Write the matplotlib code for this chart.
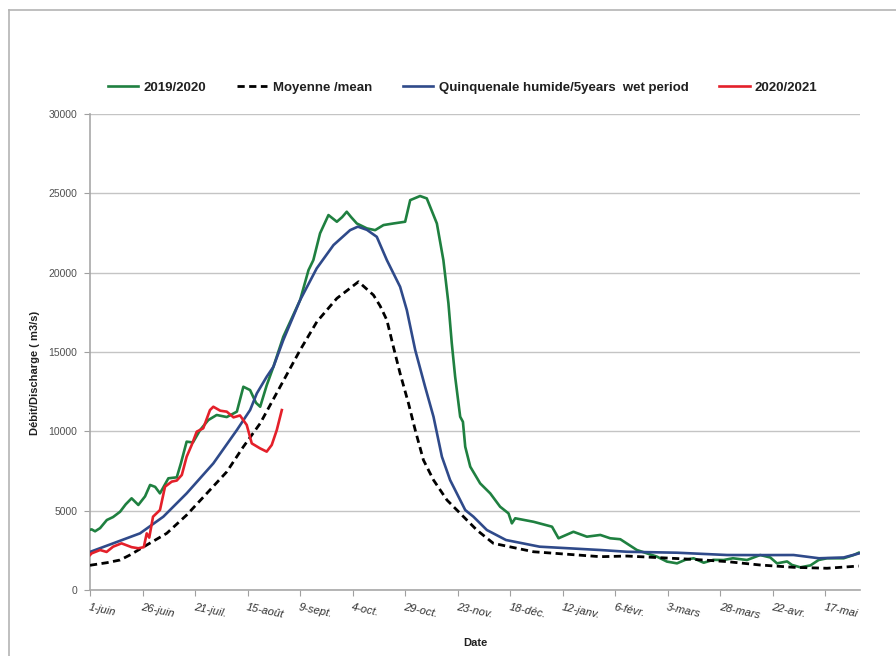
import matplotlib
matplotlib.use("Agg")
import matplotlib.pyplot as plt
from matplotlib.lines import Line2D

# ---------------- data (day index from 1 June, discharge m3/s) ----------------
green_days = [0, 0.8, 2.4, 4.8, 8, 11, 14.3, 17, 19.8, 23, 26.2, 28.6, 31, 33.3, 37.3, 41.3,
              43.3, 46, 49, 52.4, 56.3, 60.3, 65.1, 69.9, 73, 76.2, 79, 81, 84.1, 87.3, 92,
              100, 104, 106.3, 109.5, 113.5, 117.5, 120, 122.2, 124.3, 127, 131.8, 135.7,
              139.7, 144.4, 150, 152.4, 157.1, 160.3, 165.1, 168.2, 170.6, 172.2, 173.8,
              176.2, 177.5, 178.6, 181, 185.7, 190.5, 195.2, 199.2, 200.8, 202.4, 211.1,
              219.9, 223, 230.1, 236.5, 242.9, 247.6, 252.4, 260.3, 269.9, 274.6, 279.4,
              283.3, 287.3, 292.1, 296.7, 301.6, 306, 312.7, 319, 323.8, 327, 331.8, 334.1,
              338.1, 342.9, 346.8, 350.8, 358.7, 363.5, 365.9]
green_vals = [3800, 3820, 3700, 3900, 4410, 4600, 4930, 5400, 5780, 5360, 5900, 6620, 6500,
              6090, 7040, 7100, 8000, 9350, 9300, 10080, 10710, 11030, 10900, 11240, 12810,
              12600, 11800, 11550, 12900, 14070, 15960, 18270, 20160, 20790, 22480, 23630,
              23210, 23500, 23840, 23500, 23100, 22790, 22680, 23000, 23100, 23210, 24570,
              24830, 24680, 23100, 20790, 18070, 15550, 13440, 10920, 10600, 9030, 7770,
              6720, 6090, 5250, 4830, 4200, 4520, 4300, 3990, 3260, 3670, 3360, 3470, 3260,
              3200, 2520, 2100, 1790, 1680, 1900, 2000, 1720, 1900, 1890, 2000, 1890, 2205,
              2050, 1680, 1800, 1580, 1430, 1550, 1890, 2000, 2000, 2205, 2350]

mean_days = [0, 0.8, 8, 14.3, 19, 27, 36.5, 46, 55.6, 65.1, 73, 81, 90.5, 100, 108, 117.5,
             127.8, 134.9, 138.1, 141.3, 144.4, 147.6, 151.6, 154.8, 158.7, 163.5, 169.9,
             176.2, 184.1, 192, 211.1, 242.9, 255.6, 287.3, 303.2, 319, 334.9, 350.8, 365.9]
mean_vals = [1550, 1575, 1720, 1890, 2205, 2835, 3570, 4725, 6090, 7450, 9030, 10500, 12810,
             15120, 16910, 18380, 19430, 18590, 17900, 17010, 15330, 13650, 11760, 10080,
             8190, 6930, 5670, 4830, 3780, 2940, 2410, 2100, 2140, 1930, 1790, 1575, 1430,
             1370, 1510]

wet_days = [0, 11, 23.8, 34.9, 46, 58.7, 69.9, 76.2, 79.4, 84.1, 87.3, 92, 100, 107.9, 115.9,
            123.8, 127.5, 131.8, 136.5, 141.3, 147.6, 150.8, 154.8, 159.5, 163.5, 167.5,
            171.4, 175.4, 178.6, 182.5, 188.9, 198, 214, 242.9, 255.6, 279.4, 303.2, 319,
            334.9, 347, 358.7, 365.9]
wet_vals = [2400, 2940, 3570, 4620, 6090, 7980, 10080, 11340, 12390, 13440, 14070, 15750,
            18270, 20270, 21740, 22680, 22900, 22700, 22260, 20790, 19110, 17640, 15120,
            12810, 10920, 8400, 6930, 5880, 5040, 4620, 3780, 3150, 2730, 2520, 2410, 2350,
            2205, 2200, 2205, 2000, 2050, 2300]

red_days = [0, 0.8, 4.8, 7.9, 11, 15, 19.8, 23, 25.6, 27, 28.2, 30, 33.3, 35.7, 38.9, 41.3,
            43.7, 46, 48.4, 50.8, 53.9, 57.1, 58.7, 62, 65.1, 68.3, 71.4, 74.6, 77, 80.9,
            84.1, 86.5, 88.9, 91.3]
red_vals = [2200, 2310, 2520, 2400, 2730, 2940, 2700, 2630, 2700, 3570, 3300, 4620, 5040,
            6510, 6830, 6900, 7250, 8400, 9140, 9980, 10190, 11340, 11550, 11300, 11240,
            10880, 11000, 10400, 9240, 8930, 8720, 9140, 10080, 11340]

tick_days = [0, 25, 50, 75, 100, 125, 150, 175, 200, 225, 250, 275, 300, 325, 350]
tick_labels = ["1-juin", "26-juin", "21-juil.", "15-août", "9-sept.", "4-oct.", "29-oct.",
               "23-nov.", "18-déc.", "12-janv.", "6-févr.", "3-mars", "28-mars", "22-avr.",
               "17-mai"]
y_ticks = [0, 5000, 10000, 15000, 20000, 25000, 30000]

series_labels = ["2019/2020", "Moyenne /mean", "Quinquenale humide/5years  wet period", "2020/2021"]

# ---------------- figure ----------------
plt.rcParams['font.family'] = ['Liberation Sans', 'DejaVu Sans']
fig = plt.figure(figsize=(8.96, 6.56), dpi=100)
ax = fig.add_axes([90/896, 1 - 590/656, (860-90)/896, (590-114)/656])

c_green = '#1f8040'
c_blue = '#2f4a8a'
c_red = '#e4202a'

ax.plot(green_days, green_vals, color=c_green, lw=1.9, label=series_labels[0], zorder=3)
ax.plot(mean_days, mean_vals, color='black', lw=2.0, dashes=(2.6, 1.6),
        label=series_labels[1], zorder=3)
ax.plot(wet_days, wet_vals, color=c_blue, lw=1.9, label=series_labels[2], zorder=3)
ax.plot(red_days, red_vals, color=c_red, lw=1.9, label=series_labels[3], zorder=4)

ax.set_xlim(0, 366.5)
ax.set_ylim(0, 30000)
ax.set_yticks(y_ticks)
ax.set_yticklabels([str(v) for v in y_ticks], fontsize=7.5, color='#505050')
ax.yaxis.grid(True, color='#c4c4c4', lw=1.0)
ax.set_axisbelow(True)

ax.set_xticks(tick_days)
ax.set_xticklabels(tick_labels, fontsize=8, style='italic', color='#303030',
                   rotation=-12, ha='left', va='top', rotation_mode='anchor')
ax.tick_params(axis='x', length=4, color='#a0a0a0', pad=5)
ax.tick_params(axis='y', length=4, color='#a0a0a0', pad=5)

for s in ['top', 'right']:
    ax.spines[s].set_visible(False)
for s in ['left', 'bottom']:
    ax.spines[s].set_color('#a8a8a8')
    ax.spines[s].set_linewidth(1.2)

ax.set_ylabel("Débit/Discharge ( m3/s)", fontsize=8, fontweight='bold', color='#202020')
ax.yaxis.set_label_coords(-0.065, 0.455)
ax.set_xlabel("Date", fontsize=8, fontweight='bold', color='#202020')
ax.xaxis.set_label_coords(0.5, -0.1)

leg = ax.legend(loc='center', bbox_to_anchor=(0.484, (656 - 88 - (656 - 590)) / 476),
                ncol=4, frameon=False, fontsize=9.5, handlelength=2.3,
                handletextpad=0.4, columnspacing=2.35, borderaxespad=0)
for t in leg.get_texts():
    t.set_fontweight('bold')
    t.set_color('#202020')

# outer chart frame (left and top edges)
fig.add_artist(Line2D([9/896, 9/896], [0, 1 - 10/656], transform=fig.transFigure,
                      color='#b4b4b4', lw=1.2))
fig.add_artist(Line2D([9/896, 1], [1 - 10/656, 1 - 10/656], transform=fig.transFigure,
                      color='#b4b4b4', lw=1.2))

fig.savefig("out.png", dpi=100)
